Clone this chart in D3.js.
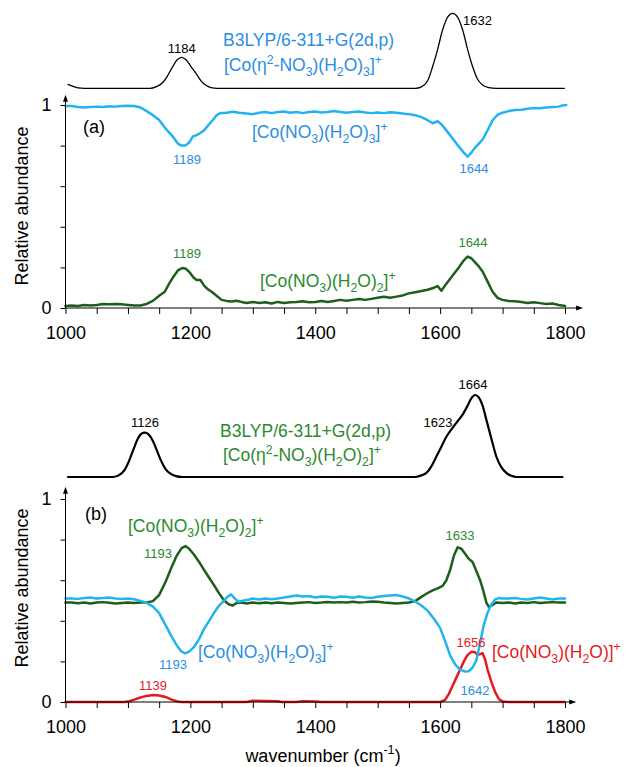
<!DOCTYPE html>
<html>
<head>
<meta charset="utf-8">
<script src="https://cdn.jsdelivr.net/npm/d3@7"></script>
<style>
body { margin: 0; background: #fff; }
text { font-family: "Liberation Sans", Arial, sans-serif; }
</style>
</head>
<body>
<div id="chart"></div>
<script>
// ---- data (wavenumber, relative value) ----
const minorTicks = d3.range(1000, 1801, 50);
const labelTicks = [1000, 1200, 1400, 1600, 1800];
const yTicks = [0, 0.2, 0.4, 0.6, 0.8, 1];
const yLabelTicks = [0, 1];

// calculated spectra, normalised to the tallest peak
const calcA = [[1004,0.053],[1012,0.025],[1020,0.006],[1030,0],[1135,0],[1145,0.02],[1155,0.07],[1163,0.16],
  [1171,0.28],[1179,0.38],[1186,0.413],[1193,0.38],[1201,0.29],[1209,0.2],[1217,0.1],[1225,0.04],[1233,0.01],
  [1243,0],[1560,0],[1570,0.02],[1580,0.1],[1588,0.29],[1596,0.52],[1604,0.78],[1612,0.95],[1620,1],[1628,0.95],
  [1636,0.78],[1644,0.52],[1652,0.29],[1660,0.12],[1668,0.044],[1678,0.01],[1690,0],[1799,0]];
const calcB = [[1004,0],[1075,0],[1085,0.02],[1095,0.09],[1102,0.2],[1109,0.34],[1116,0.47],[1122,0.53],
  [1127,0.54],[1133,0.52],[1140,0.44],[1146,0.33],[1153,0.2],[1160,0.1],[1168,0.04],[1177,0.01],[1187,0],
  [1559,0],[1570,0.02],[1578,0.05],[1586,0.13],[1594,0.25],[1602,0.37],[1610,0.49],[1620,0.6],[1628,0.68],
  [1636,0.76],[1644,0.87],[1650,0.96],[1656,1],[1662,0.97],[1668,0.87],[1674,0.7],[1682,0.47],[1690,0.25],
  [1698,0.12],[1706,0.05],[1714,0.015],[1722,0],[1796,0]];

// panel (a)
const blueA = [[1000,0.995],[1010,0.995],[1020,0.99],[1030,0.988],[1040,0.99],[1050,0.992],[1060,0.99],[1070,0.994],
  [1080,0.992],[1090,0.995],[1100,0.996],[1110,0.995],[1120,0.988],[1130,0.97],[1140,0.95],[1150,0.926],[1160,0.885],
  [1172,0.844],[1180,0.81],[1186,0.8],[1192,0.8],[1198,0.815],[1204,0.845],[1210,0.852],[1216,0.862],[1222,0.875],
  [1230,0.905],[1236,0.926],[1242,0.95],[1248,0.96],[1258,0.962],[1268,0.967],[1278,0.962],[1290,0.958],[1300,0.955],
  [1310,0.962],[1320,0.965],[1330,0.96],[1340,0.965],[1350,0.968],[1360,0.962],[1370,0.966],[1380,0.96],[1390,0.965],
  [1400,0.968],[1410,0.963],[1420,0.966],[1430,0.97],[1440,0.966],[1450,0.962],[1460,0.965],[1470,0.968],[1480,0.963],
  [1490,0.96],[1500,0.963],[1510,0.96],[1520,0.964],[1530,0.962],[1540,0.958],[1550,0.955],[1560,0.95],[1570,0.94],
  [1580,0.925],[1588,0.91],[1596,0.92],[1602,0.905],[1610,0.875],[1620,0.835],[1630,0.795],[1638,0.765],[1644,0.745],
  [1650,0.765],[1656,0.79],[1662,0.81],[1668,0.83],[1676,0.875],[1684,0.925],[1692,0.952],[1700,0.962],[1710,0.97],
  [1720,0.975],[1730,0.977],[1740,0.982],[1750,0.985],[1760,0.984],[1770,0.988],[1780,0.99],[1790,0.992],[1796,0.998],[1802,1.0]];
const greenA = [[1000,0.01],[1010,0.012],[1020,0.01],[1030,0.015],[1040,0.012],[1050,0.015],[1060,0.02],[1070,0.018],
  [1080,0.02],[1090,0.018],[1100,0.015],[1110,0.012],[1120,0.012],[1130,0.02],[1140,0.035],[1150,0.06],[1159,0.08],
  [1166,0.12],[1172,0.15],[1180,0.185],[1187,0.197],[1193,0.193],[1199,0.175],[1205,0.15],[1210,0.138],[1216,0.138],
  [1222,0.11],[1228,0.092],[1234,0.08],[1242,0.06],[1250,0.04],[1258,0.035],[1266,0.032],[1274,0.036],[1282,0.03],
  [1290,0.025],[1300,0.03],[1310,0.025],[1320,0.028],[1330,0.022],[1340,0.03],[1350,0.025],[1360,0.028],[1370,0.03],
  [1380,0.033],[1390,0.028],[1400,0.03],[1410,0.035],[1420,0.03],[1430,0.035],[1440,0.04],[1450,0.036],[1460,0.04],
  [1470,0.044],[1480,0.04],[1490,0.045],[1500,0.05],[1510,0.055],[1520,0.05],[1530,0.056],[1540,0.062],[1550,0.072],
  [1560,0.078],[1570,0.084],[1580,0.09],[1590,0.1],[1596,0.108],[1602,0.085],[1610,0.12],[1620,0.16],[1630,0.2],
  [1638,0.235],[1644,0.253],[1650,0.245],[1656,0.225],[1662,0.205],[1668,0.18],[1676,0.13],[1684,0.08],[1692,0.05],
  [1700,0.04],[1710,0.035],[1720,0.033],[1730,0.03],[1740,0.025],[1750,0.028],[1760,0.024],[1770,0.02],[1780,0.022],
  [1790,0.015],[1800,0.01]];

// panel (b)
const greenB = [[1000,0.49],[1010,0.49],[1020,0.487],[1030,0.49],[1040,0.485],[1050,0.49],[1060,0.492],[1070,0.489],
  [1080,0.485],[1090,0.488],[1100,0.49],[1110,0.488],[1120,0.49],[1130,0.49],[1140,0.497],[1150,0.527],[1160,0.59],
  [1170,0.665],[1178,0.72],[1186,0.758],[1192,0.768],[1198,0.755],[1206,0.725],[1214,0.69],[1222,0.65],[1230,0.612],
  [1238,0.575],[1246,0.535],[1254,0.5],[1262,0.48],[1268,0.475],[1274,0.488],[1282,0.49],[1290,0.485],[1300,0.49],
  [1310,0.487],[1320,0.49],[1330,0.486],[1340,0.49],[1350,0.488],[1360,0.485],[1370,0.488],[1380,0.49],[1390,0.492],
  [1400,0.488],[1410,0.49],[1420,0.493],[1430,0.49],[1440,0.492],[1450,0.49],[1460,0.494],[1470,0.49],[1480,0.492],
  [1490,0.495],[1500,0.494],[1510,0.49],[1520,0.488],[1530,0.485],[1540,0.488],[1550,0.49],[1560,0.497],[1570,0.518],
  [1580,0.537],[1588,0.55],[1596,0.56],[1604,0.572],[1610,0.6],[1616,0.65],[1622,0.72],[1628,0.762],[1634,0.755],
  [1640,0.73],[1646,0.705],[1652,0.69],[1658,0.645],[1664,0.6],[1669,0.55],[1674,0.49],[1678,0.469],[1684,0.478],
  [1690,0.49],[1700,0.488],[1710,0.49],[1720,0.485],[1730,0.49],[1740,0.488],[1750,0.492],[1760,0.488],[1770,0.49],
  [1780,0.492],[1790,0.49],[1800,0.49]];
const blueB = [[1000,0.51],[1010,0.51],[1020,0.508],[1030,0.512],[1040,0.515],[1050,0.51],[1060,0.512],[1070,0.515],
  [1080,0.51],[1090,0.508],[1100,0.51],[1110,0.506],[1120,0.498],[1130,0.488],[1140,0.47],[1150,0.438],[1160,0.38],
  [1170,0.322],[1178,0.28],[1186,0.248],[1192,0.24],[1198,0.248],[1206,0.272],[1214,0.31],[1222,0.36],[1230,0.4],
  [1238,0.44],[1246,0.475],[1254,0.5],[1260,0.52],[1265,0.53],[1271,0.51],[1277,0.494],[1286,0.5],[1294,0.505],
  [1300,0.51],[1310,0.505],[1320,0.51],[1330,0.506],[1340,0.51],[1350,0.515],[1360,0.52],[1370,0.525],[1380,0.52],
  [1390,0.522],[1400,0.515],[1410,0.52],[1420,0.518],[1430,0.514],[1440,0.52],[1450,0.518],[1460,0.514],[1470,0.52],
  [1480,0.515],[1490,0.512],[1500,0.518],[1510,0.522],[1520,0.525],[1530,0.527],[1540,0.52],[1550,0.51],[1560,0.495],
  [1570,0.475],[1580,0.45],[1590,0.41],[1600,0.365],[1608,0.3],[1616,0.23],[1624,0.185],[1632,0.16],[1640,0.15],
  [1646,0.152],[1652,0.17],[1658,0.205],[1664,0.29],[1670,0.38],[1676,0.44],[1682,0.48],[1688,0.505],[1694,0.512],
  [1700,0.51],[1710,0.51],[1720,0.512],[1730,0.508],[1740,0.505],[1750,0.51],[1760,0.515],[1770,0.51],[1780,0.505],
  [1790,0.51],[1800,0.51]];
const redB = [[1000,0],[1095,0],[1102,0.004],[1110,0.012],[1120,0.022],[1130,0.03],[1140,0.034],[1150,0.032],
  [1160,0.025],[1170,0.012],[1178,0.004],[1185,0],[1290,0],[1300,0.006],[1320,0.005],[1340,0.004],[1346,0],
  [1370,0],[1380,0.004],[1400,0.003],[1410,0],[1600,0],[1608,0.01],[1614,0.04],[1620,0.08],[1626,0.12],[1632,0.16],
  [1638,0.2],[1644,0.232],[1650,0.247],[1656,0.245],[1660,0.232],[1664,0.236],[1668,0.24],[1672,0.21],[1676,0.16],
  [1682,0.1],[1688,0.05],[1694,0.015],[1700,0.003],[1710,0],[1800,0]];

// ---- colours ----
const C = {
  blueLine: "#22b4f0", blueText: "#2a8ee2",
  greenLine: "#1d5e1d", greenText: "#2b8a30",
  red: "#e5191f", black: "#000"
};

const W = 625, H = 767;
const svg = d3.select("#chart").append("svg").attr("width", W).attr("height", H);

const x = d3.scaleLinear().domain([1000, 1800]).range([65.5, 565]);
const yA = d3.scaleLinear().domain([0, 1]).range([308, 105]);
const yB = d3.scaleLinear().domain([0, 1]).range([702, 499]);
const cA = d3.scaleLinear().domain([0, 1]).range([88.3, 13.3]);
const cB = d3.scaleLinear().domain([0, 1]).range([477, 395]);

function drawLine(y, data, color, width, curve) {
  const line = d3.line().x(d => x(d[0])).y(d => y(d[1])).curve(curve || d3.curveLinear);
  svg.append("path").datum(data)
    .attr("d", line)
    .attr("fill", "none")
    .attr("stroke", color)
    .attr("stroke-width", width)
    .attr("stroke-linejoin", "round")
    .attr("stroke-linecap", "round");
}

// text with _{sub} and ^{sup}
function rich(str, px, py, size, color, anchor) {
  const t = svg.append("text").attr("x", px).attr("y", py)
    .attr("font-size", size).attr("fill", color)
    .attr("text-anchor", anchor || "start");
  const re = /([_^])\{([^}]*)\}/g;
  let last = 0, m, shift = 0;
  const add = (s, kind) => {
    if (!s) return;
    const target = kind === "_" ? size * 0.3 : kind === "^" ? -size * 0.42 : 0;
    const ts = t.append("tspan").text(s).attr("dy", target - shift);
    if (kind) ts.attr("font-size", size * 0.7);
    shift = target;
  };
  while ((m = re.exec(str))) {
    add(str.slice(last, m.index), null);
    add(m[2], m[1]);
    last = re.lastIndex;
  }
  add(str.slice(last), null);
  return t;
}

function drawAxes(y, endWn, topVal) {
  const y0 = y(0);
  const gx = svg.append("g").attr("transform", `translate(0,${y0})`)
    .call(d3.axisBottom(x).tickValues(minorTicks).tickSize(6).tickFormat(""));
  gx.select(".domain").remove();
  const gl = svg.append("g").attr("transform", `translate(0,${y0})`)
    .call(d3.axisBottom(x).tickValues(labelTicks).tickSize(0).tickPadding(18).tickFormat(d3.format("d")));
  gl.select(".domain").remove();
  gl.selectAll("text").attr("font-size", 18).attr("font-family", "Liberation Sans, Arial, sans-serif");

  const gy = svg.append("g").attr("transform", `translate(${x(1000)},0)`)
    .call(d3.axisLeft(y).tickValues(yTicks).tickSize(5).tickFormat(""));
  gy.select(".domain").remove();
  const gyl = svg.append("g").attr("transform", `translate(${x(1000)},0)`)
    .call(d3.axisLeft(y).tickValues(yLabelTicks).tickSize(0).tickPadding(14).tickFormat(d3.format("d")));
  gyl.select(".domain").remove();
  gyl.selectAll("text").attr("font-size", 18).attr("font-family", "Liberation Sans, Arial, sans-serif");

  const xe = x(endWn), x0 = x(1000), yt = y(topVal);
  svg.append("line").attr("x1", x0).attr("x2", xe - 3).attr("y1", y0).attr("y2", y0)
    .attr("stroke", "#000").attr("stroke-width", 1);
  svg.append("path").attr("d", `M${xe},${y0} L${xe - 7},${y0 - 2.5} L${xe - 7},${y0 + 2.5} Z`).attr("fill", "#000");
  svg.append("line").attr("x1", x0).attr("x2", x0).attr("y1", y0).attr("y2", yt + 3)
    .attr("stroke", "#000").attr("stroke-width", 1);
  svg.append("path").attr("d", `M${x0},${yt} L${x0 - 2.5},${yt + 7} L${x0 + 2.5},${yt + 7} Z`).attr("fill", "#000");
}

// ---- panel (a) ----
drawLine(cA, calcA, C.black, 1.3, d3.curveMonotoneX);
drawLine(yA, greenA, C.greenLine, 2.5);
drawLine(yA, blueA, C.blueLine, 2.5);
drawAxes(yA, 1829, 1.05);

// ---- panel (b) ----
drawLine(cB, calcB, C.black, 2.2, d3.curveMonotoneX);
drawLine(yB, redB, C.red, 2.5);
drawLine(yB, greenB, C.greenLine, 2.5);
drawLine(yB, blueB, C.blueLine, 2.5);
drawAxes(yB, 1818, 1.06);

// ---- axis titles ----
svg.append("text").attr("transform", "translate(28,206) rotate(-90)")
  .attr("text-anchor", "middle").attr("font-size", 18).text("Relative abundance");
svg.append("text").attr("transform", "translate(28,588) rotate(-90)")
  .attr("text-anchor", "middle").attr("font-size", 18).text("Relative abundance");
rich("wavenumber (cm^{-1})", 323, 762, 18, C.black, "middle");

// ---- annotations panel (a) ----
rich("1184", 181.7, 52.5, 13, C.black, "middle");
rich("1632", 463, 24.5, 13, C.black, "start");
rich("B3LYP/6-311+G(2d,p)", 223, 46, 17.5, C.blueText);
rich("[Co(η^{2}-NO_{3})(H_{2}O)_{3}]^{+}", 224, 71, 17.5, C.blueText);
rich("(a)", 83, 133, 18, C.black);
rich("[Co(NO_{3})(H_{2}O)_{3}]^{+}", 252, 138, 17.5, C.blueText);
rich("1189", 187, 164, 13, C.blueText, "middle");
rich("1644", 474, 172.5, 13, C.blueText, "middle");
rich("1189", 187, 258, 13, C.greenText, "middle");
rich("1644", 473, 246.5, 13, C.greenText, "middle");
rich("[Co(NO_{3})(H_{2}O)_{2}]^{+}", 260, 287, 17.5, C.greenText);

// ---- annotations panel (b) ----
rich("1126", 145, 426.5, 13, C.black, "middle");
rich("1623", 438, 426.5, 13, C.black, "middle");
rich("1664", 473, 388.5, 13, C.black, "middle");
rich("B3LYP/6-311+G(2d,p)", 220, 436.5, 17.5, C.greenText);
rich("[Co(η^{2}-NO_{3})(H_{2}O)_{2}]^{+}", 223, 461, 17.5, C.greenText);
rich("(b)", 85, 520, 18, C.black);
rich("[Co(NO_{3})(H_{2}O)_{2}]^{+}", 128, 532, 17.5, C.greenText);
rich("1193", 158, 558, 13, C.greenText, "middle");
rich("1633", 460, 540, 13, C.greenText, "middle");
rich("1193", 173, 668.5, 13, C.blueText, "middle");
rich("[Co(NO_{3})(H_{2}O)_{3}]^{+}", 198, 658, 17.5, C.blueText);
rich("1139", 153, 690, 13, C.red, "middle");
rich("1656", 471, 647, 13, C.red, "middle");
rich("[Co(NO_{3})(H_{2}O)]^{+}", 492, 658, 17.5, C.red);
rich("1642", 475, 695, 13, C.blueText, "middle");
</script>
</body>
</html>
